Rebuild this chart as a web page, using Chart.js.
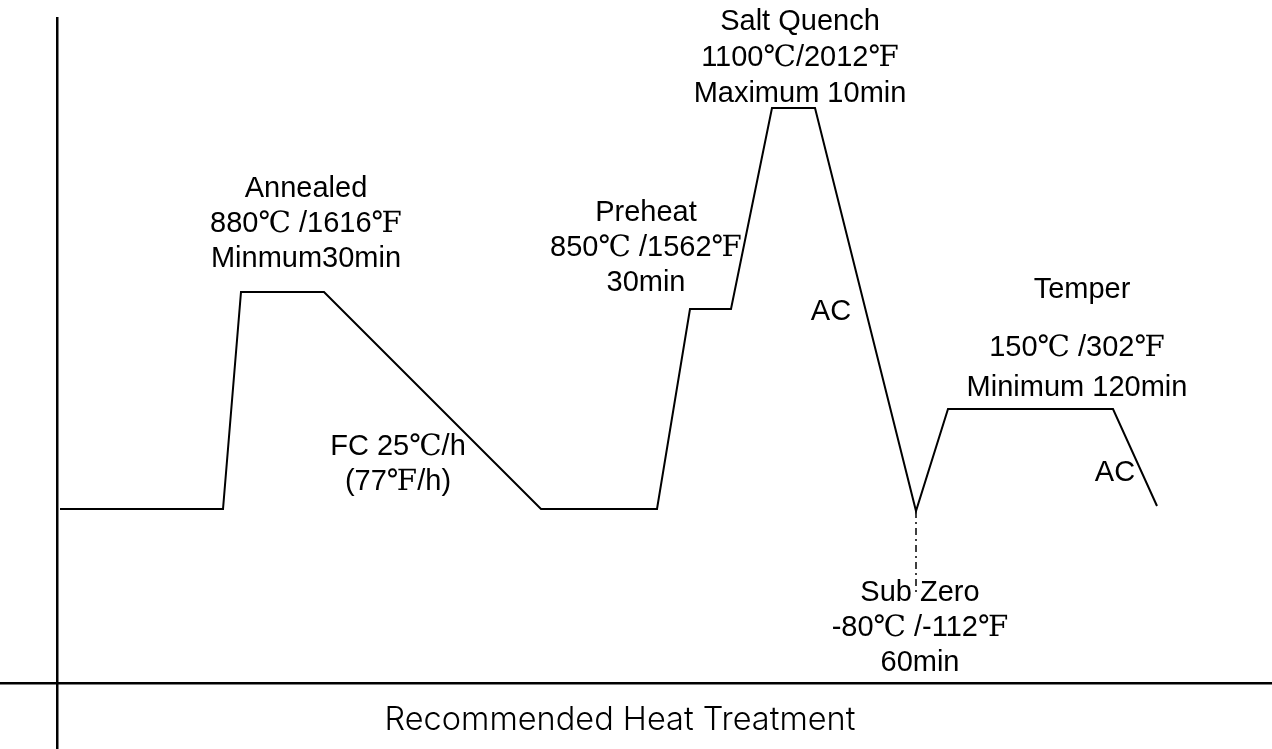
<!DOCTYPE html>
<html>
<head>
<meta charset="utf-8">
<script src="https://cdn.jsdelivr.net/npm/chart.js@4/dist/chart.umd.min.js"></script>
<style>
  html, body { margin: 0; padding: 0; background: #fff; }
  canvas { display: block; }
</style>
</head>
<body>
<canvas id="c" width="1272" height="749"></canvas>
<script>
// ---- Data (diagram units: x = process progress, y = relative temperature level) ----
const profileX = [3, 166, 184, 267, 484, 600, 633, 674, 715, 758, 859, 891, 1056, 1100];
const profileY = [174, 174, 391, 391, 174, 174, 374, 374, 575, 575, 172, 274, 274, 177];
const subZeroX = [859, 859];
const subZeroY = [172, 90];

const chartTitle = "Recommended Heat Treatment";
const stageLabels = [
  ["Annealed", "880℃ /1616℉", "Minmum30min"],
  ["Preheat", "850℃ /1562℉", "30min"],
  ["Salt Quench", "1100℃/2012℉", "Maximum 10min"],
  ["FC 25℃/h", "(77℉/h)"],
  ["AC"],
  ["Temper"],
  ["150℃ /302℉", "Minimum 120min"],
  ["AC"],
  ["Sub Zero", "-80℃ /-112℉", "60min"]
];

// ---- Layout of annotations (kept separate from data) ----
const labelLayout = [
  { x: 249, y: 494, lh: 35 },
  { x: 589, y: 470, lh: 35 },
  { x: 743, y: 661, lh: 36 },
  { x: 341, y: 236, lh: 35 },
  { x: 774, y: 371, lh: 35 },
  { x: 1025, y: 393, lh: 35 },
  { x: 1020, y: 335, lh: 40 },
  { x: 1058, y: 210, lh: 35 },
  { x: 863, y: 90, lh: 35 }
];
const labelFont = '29px "Liberation Sans", "DejaVu Serif", Arial, sans-serif';
const titleFont = '300 32.5px "Inter", "Roboto", "Liberation Sans", sans-serif';

const pts = (xs, ys) => xs.map((x, i) => ({ x, y: ys[i] }));

const annotate = {
  id: 'annotate',
  afterDatasetsDraw(chart) {
    const { ctx, scales: { x, y } } = chart;
    ctx.save();
    ctx.fillStyle = '#000';
    ctx.textAlign = 'center';
    ctx.textBaseline = 'middle';
    ctx.font = labelFont;
    stageLabels.forEach((lines, i) => {
      const L = labelLayout[i];
      const px = x.getPixelForValue(L.x);
      const py = y.getPixelForValue(L.y);
      lines.forEach((t, j) => ctx.fillText(t, px, py + j * L.lh));
    });
    ctx.font = titleFont;
    ctx.fillText(chartTitle, x.getPixelForValue(563), y.getPixelForValue(-37));
    ctx.restore();
  }
};

new Chart(document.getElementById('c'), {
  type: 'scatter',
  data: {
    datasets: [
      {
        data: pts(profileX, profileY),
        showLine: true,
        borderColor: '#000',
        borderWidth: 2,
        pointRadius: 0,
        tension: 0
      },
      {
        data: pts(subZeroX, subZeroY),
        showLine: true,
        borderColor: '#000',
        borderWidth: 1.5,
        borderDash: [7, 4, 2, 4],
        pointRadius: 0
      }
    ]
  },
  options: {
    responsive: false,
    animation: false,
    layout: { padding: { top: 17, left: 0, right: 0, bottom: 0 } },
    plugins: { legend: { display: false }, tooltip: { enabled: false }, title: { display: false } },
    scales: {
      x: {
        type: 'linear', min: -57, max: 1215,
        border: { display: false },
        ticks: { display: false },
        grid: { color: '#000', lineWidth: 2.5, drawTicks: false },
        afterBuildTicks: s => { s.ticks = [{ value: 0 }]; }
      },
      y: {
        type: 'linear', min: -66, max: 666,
        border: { display: false },
        ticks: { display: false },
        grid: { color: '#000', lineWidth: 2.5, drawTicks: false },
        afterBuildTicks: s => { s.ticks = [{ value: 0 }]; }
      }
    }
  },
  plugins: [annotate]
});
</script>
</body>
</html>
